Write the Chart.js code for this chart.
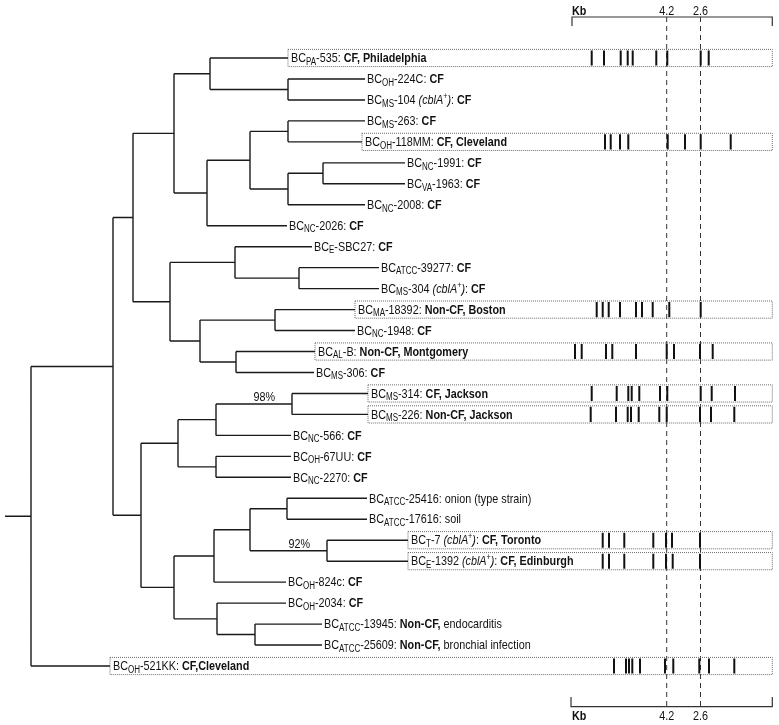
<!DOCTYPE html>
<html>
<head>
<meta charset="utf-8">
<script src="https://cdn.jsdelivr.net/npm/chart.js@4.4.1/dist/chart.umd.min.js"></script>
<style>
  html, body { margin: 0; padding: 0; background: #fff; }
  #wrap { width: 779px; height: 725px; position: relative; }
</style>
</head>
<body>
<div id="wrap"><canvas id="tree"></canvas></div>
<script>
// strains, top to bottom (row index = position in the tree)
const strainSub = ['PA','OH','MS','MS','OH','NC','VA','NC','NC','E','ATCC','MS','MA','NC','AL','MS',
  'MS','MS','NC','OH','NC','ATCC','ATCC','T','E','OH','OH','ATCC','ATCC','OH'];
const strainId = ['-535','-224C','-104','-263','-118MM','-1991','-1963','-2008','-2026','-SBC27','-39277','-304',
  '-18392','-1948','-B','-306','-314','-226','-566','-67UU','-2270','-25416','-17616','-7','-1392','-824c',
  '-2034','-13945','-25609','-521KK'];
const cblA = [2, 11, 23, 24];
const source = ['CF, Philadelphia','CF','CF','CF','CF, Cleveland','CF','CF','CF','CF','CF','CF','CF',
  'Non-CF, Boston','CF','Non-CF, Montgomery','CF','CF, Jackson','Non-CF, Jackson','CF','CF','CF','','',
  'CF, Toronto','CF, Edinburgh','CF','CF','Non-CF,','Non-CF,','CF,Cleveland'];
const note = ['','','','','','','','','','','','','','','','','','','','','',
  'onion (type strain)','soil','','','','',' endocarditis',' bronchial infection',''];

// branch end (distance from the left) of every leaf
const leafEnd = [288,365,365,365,362,405,405,365,287,312,379,379,355,355,315,314,
  368,368,291,291,291,367,367,408,408,286,286,322,322,110];

// internal nodes: depth and children (numbers = leaf rows)
const nodeName = ['root','Z','A','B','D','F','E','G','H','I','J','C','K','M','L','N','O',
  'P','Q','T','U','S','R','V','X','Y','AA','W','AB'];
const nodeX = [31,113,133,174,210,288,207,250,288,288,323,170,235,299,200,275,236,
  141,178,216,292,216,174,214,250,287,327,217,255];
const nodeKids = [['Z',29],['A','P'],['B','C'],['D','E'],[0,'F'],[1,2],['G',8],['H','I'],[3,4],['J',7],[5,6],
  ['K','L'],[9,'M'],[10,11],['N','O'],[12,13],[14,15],
  ['Q','R'],['T','S'],['U',18],[16,17],[19,20],['V','W'],['X',25],['Y','AA'],[21,22],[23,24],[26,'AB'],[27,28]];

// bootstrap support
const bootNode = ['U','AA'];
const bootText = ['98%','92%'];

// RFLP band patterns for the boxed strains
const bandRows = [0,4,12,14,16,17,23,24,29];
const bandPos = [
  [591.7,604,620.7,627.7,632.7,656.3,667.3,700.7,708.7],
  [605,610.7,620,628.3,667.7,685,700.7,730.7],
  [596.7,602.7,608.7,620,636,642,652.7,669.3,700.7],
  [575,581.7,606,612.3,636,666.7,674,700,712.7],
  [591.7,616.7,628.3,631.7,639.3,660,667.3,700.7,711.7,735],
  [590.7,616,627.7,631,638.7,659.3,666.7,700,711,734.3],
  [602.7,609,624.3,653.3,666,672,700],
  [602.7,609,624.3,653.3,666,672.7,700],
  [614,626,629,632.3,640,665,673.3,699.3,709,734.3]
];
const markerKb = ['4.2','2.6'];
const markerPos = [666.7,700.5];

// ---- geometry built from the data ----
const rowY = {};
const depth = {};
nodeName.forEach((n, i) => depth[n] = nodeX[i]);
function yOf(k) {
  if (typeof k === 'number') return k;
  if (rowY[k] !== undefined) return rowY[k];
  const kids = nodeKids[nodeName.indexOf(k)];
  rowY[k] = (yOf(kids[0]) + yOf(kids[1])) / 2;
  return rowY[k];
}
function xOf(k) { return typeof k === 'number' ? leafEnd[k] : depth[k]; }

function seg(list, x1, y1, x2, y2) {
  list.push({x: x1, y: y1}, {x: x2, y: y2}, {x: x2, y: null});
}

const treePts = [];
seg(treePts, 5, yOf('root'), nodeX[0], yOf('root'));
nodeName.forEach((n, i) => {
  const kids = nodeKids[i];
  const ys = kids.map(yOf);
  seg(treePts, nodeX[i], Math.min(...ys), nodeX[i], Math.max(...ys));
  kids.forEach(k => seg(treePts, nodeX[i], yOf(k), xOf(k), yOf(k)));
});

const bandPts = [];
const boxPts = [];
const BOX_RIGHT = 772.3;
bandRows.forEach((r, i) => {
  bandPos[i].forEach(b => seg(bandPts, b, r - 0.36, b, r + 0.36));
  const l = leafEnd[r];
  boxPts.push({x: l, y: r - 0.41}, {x: BOX_RIGHT, y: r - 0.41}, {x: BOX_RIGHT, y: r + 0.41},
    {x: l, y: r + 0.41}, {x: l, y: r - 0.41}, {x: l, y: null});
});

// kb ruler (pixel y scale)
const rulerPts = [
  {x: 572, y: 26}, {x: 572, y: 17}, {x: BOX_RIGHT, y: 17}, {x: BOX_RIGHT, y: 26}, {x: BOX_RIGHT, y: null},
  {x: 571, y: 697}, {x: 571, y: 706.7}, {x: BOX_RIGHT, y: 706.7}, {x: BOX_RIGHT, y: 697}
];
const markerPts = [];
markerPos.forEach(m => seg(markerPts, m, 17, m, 707));

// ---- text ----
const FAM = '"Liberation Sans", Arial, Helvetica, sans-serif';
const SQ = 0.8;
const FONTS = {
  n: '13.5px ' + FAM, b: 'bold 13.5px ' + FAM, i: 'italic 13.5px ' + FAM,
  sub: '10px ' + FAM, sup: '9px ' + FAM
};
const SHIFT = {sub: 3.5, sup: -4};

function leafParts(i) {
  const p = [{t: 'BC', f: 'n'}, {t: strainSub[i], f: 'sub'}, {t: strainId[i], f: 'n'}];
  if (cblA.includes(i)) p.push({t: ' ', f: 'n'}, {t: '(cblA', f: 'i'}, {t: '+', f: 'sup'}, {t: ')', f: 'i'});
  p.push({t: ': ', f: 'n'});
  if (source[i]) p.push({t: source[i], f: 'b'});
  if (note[i]) p.push({t: note[i], f: 'n'});
  return p;
}

function drawParts(ctx, x0, y0, parts, align) {
  let w = 0;
  parts.forEach(p => { ctx.font = FONTS[p.f]; w += ctx.measureText(p.t).width * SQ; });
  let cx = align === 'right' ? x0 - w : align === 'center' ? x0 - w / 2 : x0;
  parts.forEach(p => {
    ctx.font = FONTS[p.f];
    ctx.save();
    ctx.translate(cx, y0 + (SHIFT[p.f] || 0));
    ctx.scale(SQ, 1);
    ctx.fillText(p.t, 0, 0);
    ctx.restore();
    cx += ctx.measureText(p.t).width * SQ;
  });
}

const textPlugin = {
  id: 'treeText',
  afterDatasetsDraw(chart) {
    const {ctx} = chart;
    const sx = chart.scales.x, sy = chart.scales.y, sp = chart.scales.py;
    ctx.save();
    ctx.fillStyle = '#111';
    ctx.textBaseline = 'middle';
    strainSub.forEach((s, i) => {
      const boxed = bandRows.includes(i);
      drawParts(ctx, sx.getPixelForValue(leafEnd[i]) + (boxed ? 3 : 2), sy.getPixelForValue(i) + 0.5, leafParts(i));
    });
    ctx.textBaseline = 'alphabetic';
    bootNode.forEach((n, i) => {
      drawParts(ctx, sx.getPixelForValue(depth[n]) - 17, sy.getPixelForValue(yOf(n)) - 3, [{t: bootText[i], f: 'n'}], 'right');
    });
    ctx.textBaseline = 'middle';
    [11, 716.5].forEach(yy => {
      drawParts(ctx, sx.getPixelForValue(572), sp.getPixelForValue(yy), [{t: 'Kb', f: 'b'}]);
      markerKb.forEach((k, i) => drawParts(ctx, sx.getPixelForValue(markerPos[i]), sp.getPixelForValue(yy), [{t: k, f: 'n'}], 'center'));
    });
    ctx.restore();
  }
};

const ROW_PX = 20.966, FIRST_ROW = 58;
new Chart(document.getElementById('tree'), {
  type: 'scatter',
  data: {
    datasets: [
      {data: treePts, borderColor: '#1a1a1a', borderWidth: 1.4},
      {data: boxPts, borderColor: '#6a6a6a', borderWidth: 1, borderDash: [1, 1]},
      {data: bandPts, borderColor: '#111', borderWidth: 2},
      {data: markerPts, yAxisID: 'py', borderColor: '#333', borderWidth: 1, borderDash: [5, 4]},
      {data: rulerPts, yAxisID: 'py', borderColor: '#333', borderWidth: 1.2}
    ].map(d => Object.assign({showLine: true, spanGaps: false, pointRadius: 0, pointHoverRadius: 0,
      tension: 0, fill: false, borderCapStyle: 'butt', borderJoinStyle: 'miter'}, d))
  },
  options: {
    responsive: true,
    maintainAspectRatio: false,
    animation: false,
    events: [],
    layout: {padding: 0},
    plugins: {legend: {display: false}, tooltip: {enabled: false}},
    scales: {
      x: {type: 'linear', display: false, min: 0, max: 779},
      y: {type: 'linear', display: false, reverse: true,
        min: -FIRST_ROW / ROW_PX, max: (725 - FIRST_ROW) / ROW_PX},
      py: {type: 'linear', display: false, reverse: true, min: 0, max: 725}
    }
  },
  plugins: [textPlugin]
});
</script>
</body>
</html>
